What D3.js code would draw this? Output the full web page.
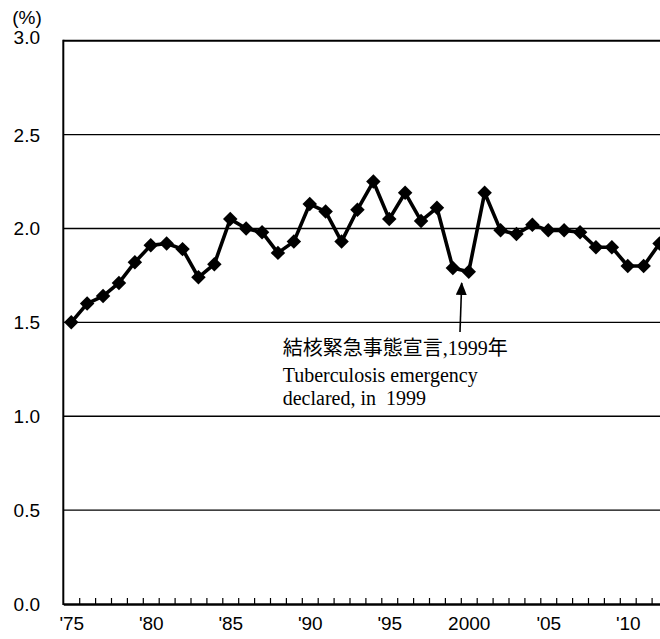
<!DOCTYPE html>
<html>
<head>
<meta charset="utf-8">
<script src="https://d3js.org/d3.v7.min.js"></script>
<style>
  body{ margin:0; background:#fff; }
  svg{ display:block; }
  .lbl{ font-family:"Liberation Sans Narrow", "Liberation Sans", Arial, sans-serif; font-size:19px; fill:#000; }
</style>
</head>
<body>
<script>
    var svgWidth = 660;
    var svgHeight = 639;

    // data
    var years = [1975,1976,1977,1978,1979,1980,1981,1982,1983,1984,
                 1985,1986,1987,1988,1989,1990,1991,1992,1993,1994,
                 1995,1996,1997,1998,1999,2000,2001,2002,2003,2004,
                 2005,2006,2007,2008,2009,2010,2011,2012];
    var rates = [1.50,1.60,1.64,1.71,1.82,1.91,1.92,1.89,1.74,1.81,
                 2.05,2.00,1.98,1.87,1.93,2.13,2.09,1.93,2.10,2.25,
                 2.05,2.19,2.04,2.11,1.79,1.77,2.19,1.99,1.97,2.02,
                 1.99,1.99,1.98,1.90,1.90,1.80,1.80,1.92];
    var yTicks = [0, 0.5, 1.0, 1.5, 2.0, 2.5, 3.0];
    var labelYears = [1975,1980,1985,1990,1995,2000,2005,2010];
    var labelText = ["'75","'80","'85","'90","'95","2000","'05","'10"];

    var plotLeft = 63.3, plotBottom = 604, plotTop = 40.7;
    var step = 15.9;

    var svg = d3.select("body")
        .append("svg")
        .attr("width", svgWidth)
        .attr("height", svgHeight);

    var x = d3.scaleLinear()
        .domain([1974.5, 2012.5])
        .range([plotLeft, plotLeft + 38 * step]);

    var y = d3.scaleLinear()
        .domain([0, 3])
        .range([plotBottom, plotTop]);

    // gridlines
    svg.selectAll('line.grid')
        .data(yTicks.filter(function(d){ return d > 0; }))
        .enter().append('line')
        .attr('class', 'grid')
        .attr('x1', plotLeft)
        .attr('x2', svgWidth + 20)
        .attr('y1', function(d){ return y(d); })
        .attr('y2', function(d){ return y(d); })
        .attr('stroke', '#000')
        .attr('stroke-width', function(d){ return d === 3 ? 2 : 1.4; });

    // y labels
    svg.selectAll('text.ylab')
        .data(yTicks)
        .enter().append('text')
        .attr('class', 'lbl ylab')
        .attr('x', 40)
        .attr('y', function(d){ return y(d) + (d === 3 ? 3.5 : 7); })
        .attr('text-anchor', 'end')
        .text(function(d){ return d.toFixed(1); });

    svg.append('text')
        .attr('class', 'lbl')
        .attr('x', 27)
        .attr('y', 24)
        .attr('text-anchor', 'middle')
        .text('(%)');

    // left axis line
    svg.append('line')
        .attr('x1', plotLeft).attr('x2', plotLeft)
        .attr('y1', plotTop - 1).attr('y2', plotBottom + 1)
        .attr('stroke', '#000')
        .attr('stroke-width', 2);

    // bottom axis: inward ticks between years
    var boundaries = years.slice(0, -1).map(function(d){ return d + 0.5; });
    var tickAxis = d3.axisBottom(x)
        .tickValues(boundaries)
        .tickSize(-6)
        .tickSizeOuter(0)
        .tickFormat('');
    var gx = svg.append('g')
        .attr('transform', 'translate(0,' + plotBottom + ')')
        .call(tickAxis);
    gx.select('.domain').attr('stroke-width', 2.4);
    gx.selectAll('.tick line').attr('stroke-width', 1.2);

    var labelAxis = d3.axisBottom(x)
        .tickValues(labelYears)
        .tickSize(0)
        .tickPadding(13)
        .tickFormat(function(d, i){ return labelText[i]; });
    var gl = svg.append('g')
        .attr('transform', 'translate(0,' + plotBottom + ')')
        .call(labelAxis);
    gl.select('.domain').remove();
    gl.selectAll('text')
        .attr('class', 'lbl')
        .style('font-family', '"Liberation Sans Narrow", "Liberation Sans", Arial, sans-serif')
        .style('font-size', '19px');

    // series line
    var line = d3.line()
        .x(function(d, i){ return x(years[i]); })
        .y(function(d){ return y(d); });

    svg.append('path')
        .datum(rates)
        .attr('d', line)
        .attr('fill', 'none')
        .attr('stroke', '#000')
        .attr('stroke-width', 3.6)
        .attr('stroke-linejoin', 'round');

    // diamond markers
    var marker = d3.symbol().type(d3.symbolSquare).size(105);
    svg.selectAll('path.mk')
        .data(rates)
        .enter().append('path')
        .attr('class', 'mk')
        .attr('d', marker)
        .attr('transform', function(d, i){
            return 'translate(' + x(years[i]) + ',' + y(d) + ') rotate(45)';
        })
        .attr('fill', '#000');

    // annotation arrow
    var defs = svg.append('defs');
    defs.append('marker')
        .attr('id', 'head')
        .attr('viewBox', '0 0 13 11')
        .attr('refX', 12).attr('refY', 5.5)
        .attr('markerWidth', 13).attr('markerHeight', 11)
        .attr('markerUnits', 'userSpaceOnUse')
        .attr('orient', 'auto')
        .append('path')
        .attr('d', 'M0,0 L13,5.5 L0,11 Z')
        .attr('fill', '#000');

    svg.append('line')
        .attr('x1', 460).attr('y1', 332)
        .attr('x2', 461.7).attr('y2', 283)
        .attr('stroke', '#000')
        .attr('stroke-width', 1.6)
        .attr('marker-end', 'url(#head)');

    var note = svg.append('text')
        .attr('x', 282.7)
        .attr('y', 355)
        .style('font-size', '20px')
        .attr('fill', '#000');
    note.append('tspan')
        .style('font-family', '"Noto Sans CJK JP", sans-serif')
        .text('結核緊急事態宣言');
    note.append('tspan')
        .style('font-family', '"Liberation Serif", "Times New Roman", serif')
        .text(',1999');
    note.append('tspan')
        .style('font-family', '"Noto Sans CJK JP", sans-serif')
        .text('年');

    svg.append('text')
        .attr('x', 282.7).attr('y', 381.5)
        .style('font-family', '"Liberation Serif", "Times New Roman", serif')
        .style('font-size', '20px')
        .text('Tuberculosis emergency');

    svg.append('text')
        .attr('x', 282.7).attr('y', 405)
        .style('font-family', '"Liberation Serif", "Times New Roman", serif')
        .style('font-size', '20px')
        .style('white-space', 'pre')
        .text('declared, in  1999');
</script>
</body>
</html>
